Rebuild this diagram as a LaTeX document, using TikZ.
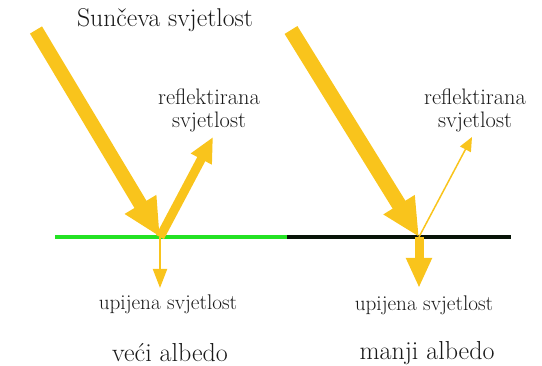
\documentclass[tikz,border=0pt]{standalone}
\usepackage{tikz}
\usetikzlibrary{arrows.meta}
\definecolor{SunYellow}{RGB}{249,196,28}
\definecolor{GrassGreen}{RGB}{36,226,36}
\definecolor{SoilBlack}{RGB}{8,20,8}

\begin{document}
\begin{tikzpicture}[x=1pt, y=-1pt, every node/.style={inner sep=0pt, text=black!90}, lbl/.style={font=\fontsize{22.4}{23}\selectfont, align=center}, big/.style={font=\fontsize{25.7}{28}\selectfont}, ray/.style={SunYellow, line cap=butt}]
\useasboundingbox (0,0) rectangle (542,366);
% ground
\coordinate (gA) at (55,237);
\coordinate (gM) at (287,237);
\coordinate (gB) at (511,237);
\draw[GrassGreen, line width=4.5pt] (gA) -- (gM);
\draw[SoilBlack, line width=4.5pt] (gM) -- (gB);
% light paths
\coordinate (inA) at (36,30);
\coordinate (hitA) at (160,237);
\coordinate (outA) at (213,137);
\coordinate (downA) at (160,288);
\coordinate (inB) at (291,30);
\coordinate (hitB) at (419,237);
\coordinate (outB) at (472,137);
\coordinate (downB) at (419,288);
\draw[ray, line width=14pt, -{Triangle[length=38pt, width=34pt]}] (inA) -- (hitA);
\draw[ray, line width=9pt, -{Triangle[length=25pt, width=22pt]}] (hitA) -- (outA);
\draw[ray, line width=2pt, -{Triangle[length=19pt, width=14pt]}] (hitA) -- (downA);
\draw[ray, line width=15pt, -{Triangle[length=38pt, width=34pt]}] (inB) -- (hitB);
\draw[ray, line width=1.5pt, -{Triangle[length=14pt, width=12pt]}] (hitB) -- (outB);
\draw[ray, line width=9pt, -{Triangle[length=30pt, width=24pt]}] (hitB) -- (downB);
% labels
\node[big] (sun) at (165,20) {Sunčeva svjetlost};
\node[lbl] (reflA) at (209,110) {reflektirana\\svjetlost};
\node[lbl] (reflB) at (475,110) {reflektirana\\svjetlost};
\node[lbl, font=\fontsize{21.2}{24}\selectfont] (absA) at (168,304) {upijena svjetlost};
\node[lbl, font=\fontsize{21.2}{24}\selectfont] (absB) at (424,305) {upijena svjetlost};
\node[lbl, font=\fontsize{26}{30}\selectfont] (albA) at (170,353) {veći albedo};
\node[lbl, font=\fontsize{26}{30}\selectfont] (albB) at (427,353) {manji albedo};
\end{tikzpicture}
\end{document}
